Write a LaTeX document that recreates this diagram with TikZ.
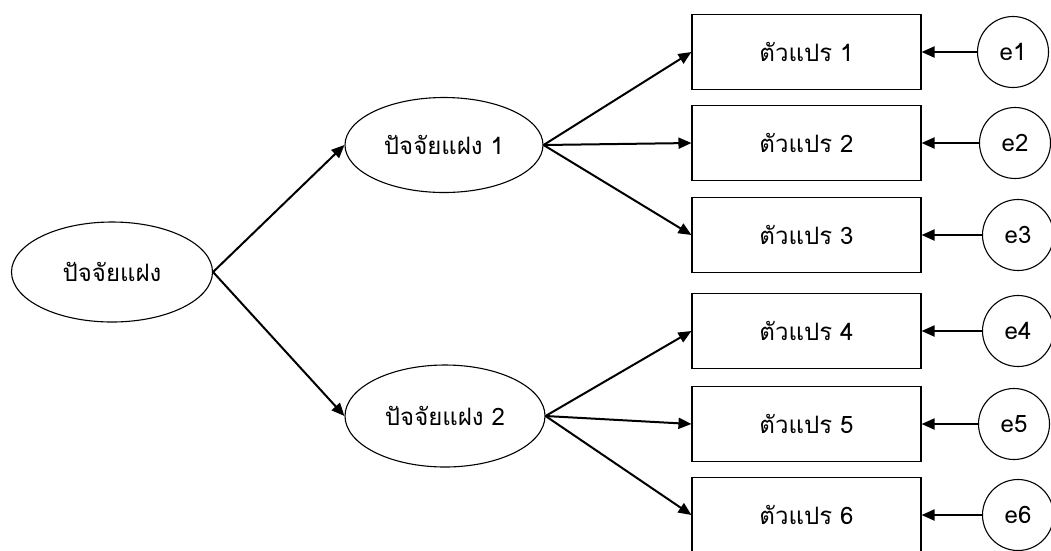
\documentclass[tikz,border=0pt]{standalone}
\usepackage{fontspec}
\newfontfamily\thaifont[Script=Thai]{Loma}
\usetikzlibrary{shapes.geometric,arrows.meta}
\begin{document}
\begin{tikzpicture}[x=1pt,y=-1pt,
  every node/.style={font=\thaifont\fontsize{24}{28}\selectfont, text=black},
  latent/.style={draw, ellipse, line width=1.1pt, inner sep=0pt},
  obsbox/.style={draw, rectangle, line width=1.1pt, minimum width=229pt, minimum height=75pt, inner sep=0pt},
  errc/.style={draw, circle, line width=1.1pt, minimum size=71pt, inner sep=0pt},
  arr/.style={line width=2pt, -{Triangle[length=13pt,width=11pt]}}]
\useasboundingbox (0,0) rectangle (1051,550);
\node[latent, minimum width=201pt, minimum height=100pt] (F) at (112,272) {ปัจจัยแฝง};
\node[latent, minimum width=198pt, minimum height=95pt] (F1) at (444,145) {ปัจจัยแฝง 1};
\node[latent, minimum width=200pt, minimum height=102pt] (F2) at (445,416) {ปัจจัยแฝง 2};
\node[obsbox] (v1) at (806.5,52) {ตัวแปร 1};
\node[obsbox] (v2) at (806.5,143) {ตัวแปร 2};
\node[obsbox] (v3) at (806.5,235) {ตัวแปร 3};
\node[obsbox] (v4) at (806.5,331) {ตัวแปร 4};
\node[obsbox] (v5) at (806.5,424) {ตัวแปร 5};
\node[obsbox] (v6) at (806.5,515) {ตัวแปร 6};
\node[errc] (e1) at (1013,52) {e1};
\node[errc] (e2) at (1015,143) {e2};
\node[errc] (e3) at (1018,235) {e3};
\node[errc] (e4) at (1018,331) {e4};
\node[errc] (e5) at (1014,424) {e5};
\node[errc] (e6) at (1018,515) {e6};
\draw[arr] (F.east) -- (F1.west);
\draw[arr] (F.east) -- (F2.west);
\foreach \v in {v1,v2,v3} \draw[arr] (F1.east) -- (\v.west);
\foreach \v in {v4,v5,v6} \draw[arr] (F2.east) -- (\v.west);
\foreach \i in {1,...,6} \draw[arr] (e\i.west) -- (v\i.east);
\end{tikzpicture}
\end{document}
